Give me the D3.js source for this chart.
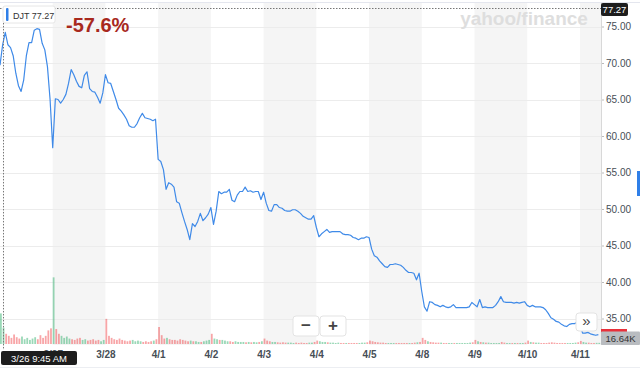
<!DOCTYPE html>
<html lang="en">
<head>
<meta charset="utf-8">
<title>DJT</title>
<script src="https://cdn.jsdelivr.net/npm/d3@7"></script>
<style>
  body { margin: 0; background: #fff; }
  svg { display: block; font-family: "Liberation Sans", Arial, sans-serif; }
</style>
</head>
<body>
<div id="chart"></div>
<script>
// ---------------- DATA ----------------
var days = ["3/26","3/27","3/28","4/1","4/2","4/3","4/4","4/5","4/8","4/9","4/10","4/11"];
var samplesPerDay = 20;   // ~19.5 min per sample
var yTicks = [35, 40, 45, 50, 55, 60, 65, 70, 75];
var lastClose = 77.27;
var changeText = "-57.6%";
var lastVolume = "16.64K";

var price = [
  [69.7,72.5,74.2,72.5,72.1,71.0,68.6,66.9,66.1,67.7,71.0,72.8,72.8,74.5,74.7,74.6,72.7,71.8,69.5,65.0],
  [58.4,65.1,65.0,64.5,65.0,65.7,67.2,69.1,68.4,67.5,66.8,66.6,68.3,68.8,66.5,66.1,66.0,65.3,64.5,65.9],
  [68.4,67.3,67.2,66.1,65.0,63.8,63.4,62.9,62.3,61.4,61.2,61.2,61.7,62.5,63.1,62.5,62.4,62.3,62.1,62.3],
  [56.8,56.5,55.4,52.7,53.6,53.4,53.0,51.0,50.8,49.5,48.3,47.2,45.8,48.0,47.6,48.3,49.4,48.4,48.8,49.3],
  [50.2,47.9,49.7,52.4,52.1,52.3,52.3,52.7,51.2,51.0,51.9,52.4,52.4,53.0,52.4,52.5,52.3,52.4,52.4,51.3],
  [52.3,50.8,49.8,49.7,50.6,50.6,50.2,50.1,49.8,49.7,49.7,49.9,49.9,49.7,49.4,49.0,48.8,48.6,48.6,49.1],
  [47.5,46.2,46.6,46.9,47.2,46.8,46.9,46.9,46.9,46.9,46.6,46.5,46.5,46.4,46.1,46.0,45.8,46.0,46.0,46.2],
  [46.1,44.5,43.6,43.4,42.9,42.5,42.1,42.0,42.4,42.4,42.5,42.4,42.3,42.0,41.6,41.3,41.3,41.2,40.3,41.2],
  [38.7,36.6,36.0,37.3,37.2,36.9,36.8,36.6,36.8,36.6,36.5,36.6,36.9,36.5,36.5,36.5,36.5,36.5,36.6,37.2],
  [36.9,36.6,37.6,36.5,36.6,36.5,36.5,36.5,36.8,37.3,38.0,37.3,37.2,37.2,37.2,37.1,37.2,37.1,37.2,37.3],
  [36.8,36.6,36.8,36.6,36.6,36.6,36.5,36.2,35.7,35.1,34.9,34.6,34.5,34.2,34.0,33.9,34.2,34.3,34.3,34.5],
  [34.3,33.0,33.0,33.1,32.9,32.8,32.7,32.8]
];

// volume in thousands of shares, same sampling as price
var volume = [
  [450,240,150,120,90,140,100,80,110,70,90,60,80,100,70,130,90,120,200,230],
  [980,220,150,120,90,110,80,70,60,80,90,60,70,50,60,70,50,60,40,60],
  [370,120,90,70,60,80,60,50,40,50,60,40,50,40,30,40,30,40,50,70],
  [250,130,80,90,70,60,60,50,70,60,50,40,50,40,40,30,30,40,50,60],
  [150,80,70,60,60,50,40,40,30,40,30,30,30,25,30,25,30,25,30,40],
  [80,50,40,30,30,25,20,25,20,20,20,15,20,15,20,15,15,20,20,30],
  [50,40,30,30,25,20,20,15,20,15,15,15,15,15,15,15,15,20,20,25],
  [50,40,30,25,20,20,15,15,15,15,15,15,15,15,15,15,15,20,25,30],
  [90,60,40,30,25,20,20,20,15,15,15,15,15,15,15,15,15,15,20,25],
  [60,40,30,25,20,20,15,15,15,15,30,20,15,15,15,15,15,15,15,20],
  [50,30,25,20,20,15,15,15,20,25,20,15,15,15,15,15,15,15,20,25],
  [45,30,20,20,15,15,17,17]
];

// ---------------- LAYOUT ----------------
var width = 640, height = 369;
var plotLeft = 0, plotRight = 601, plotTop = 3, plotBottom = 345;

var points = [];
price.forEach(function(day, d) {
  day.forEach(function(p, i) {
    points.push({ t: d + i / samplesPerDay, p: p, v: volume[d][i] });
  });
});
// bar colour: did price rise over the sample interval
points.forEach(function(pt, i) {
  var next = points[i + 1];
  pt.up = next ? next.p >= pt.p : pt.p >= points[i - 1].p;
});

var x = d3.scaleLinear().domain([0, 11.4]).range([plotLeft, plotRight]);
var y = d3.scaleLinear().domain([35, 75]).range([318.5, 26.5]);
var yVol = d3.scaleLinear().domain([0, 1000]).range([344, 276]);

var svg = d3.select("#chart").append("svg")
  .attr("width", width)
  .attr("height", height);

// alternating day bands
svg.append("g").selectAll("rect")
  .data(days.filter(function(d, i) { return i % 2 === 1; }))
  .join("rect")
  .attr("x", function(d) { return x(days.indexOf(d)); })
  .attr("y", plotTop)
  .attr("width", function(d) { return Math.min(x(days.indexOf(d) + 1), plotRight) - x(days.indexOf(d)); })
  .attr("height", plotBottom - plotTop)
  .attr("fill", "#f5f5f5");

// top border
svg.append("line")
  .attr("x1", 0).attr("x2", width)
  .attr("y1", 2.5).attr("y2", 2.5)
  .attr("stroke", "#e4e6ee");

// horizontal grid
svg.append("g").selectAll("line")
  .data(yTicks)
  .join("line")
  .attr("x1", plotLeft).attr("x2", plotRight)
  .attr("y1", function(d) { return Math.round(y(d)) + 0.5; })
  .attr("y2", function(d) { return Math.round(y(d)) + 0.5; })
  .attr("stroke", "#ececec");

// volume bars
svg.append("g").selectAll("rect")
  .data(points)
  .join("rect")
  .attr("x", function(d) { return x(d.t); })
  .attr("y", function(d) { return yVol(d.v); })
  .attr("width", 1.8)
  .attr("height", function(d) { return yVol(0) - yVol(d.v); })
  .attr("fill", function(d) { return d.up ? "#1fa85f" : "#f0383c"; })
  .attr("fill-opacity", 0.45);

// price line
var line = d3.line()
  .x(function(d) { return x(d.t); })
  .y(function(d) { return y(d.p); });

svg.append("path")
  .datum(points)
  .attr("d", line)
  .attr("fill", "none")
  .attr("stroke", "#3f8ae8")
  .attr("stroke-width", 1.2)
  .attr("stroke-linejoin", "round");

// crosshair
svg.append("line")
  .attr("x1", 0).attr("x2", plotRight)
  .attr("y1", Math.round(y(lastClose)) - 1.5).attr("y2", Math.round(y(lastClose)) - 1.5)
  .attr("stroke", "#777").attr("stroke-dasharray", "1.5,1.5");
svg.append("line")
  .attr("x1", 3.5).attr("x2", 3.5)
  .attr("y1", y(lastClose) - 2).attr("y2", plotBottom + 5)
  .attr("stroke", "#777").attr("stroke-dasharray", "1.5,1.5");

// right axis
var yAxis = d3.axisRight(y).tickValues(yTicks).tickSize(3).tickPadding(2)
  .tickFormat(d3.format(".2f"));
var gy = svg.append("g")
  .attr("transform", "translate(" + plotRight + ",0)")
  .call(yAxis);
gy.select(".domain").remove();
gy.selectAll(".tick line").attr("stroke", "#bbb");
gy.selectAll(".tick text")
  .attr("font-size", "10px")
  .attr("font-family", "Liberation Sans, Arial, sans-serif")
  .attr("fill", "#464e56");
svg.append("line")
  .attr("x1", plotRight + 0.5).attr("x2", plotRight + 0.5)
  .attr("y1", plotTop).attr("y2", plotBottom)
  .attr("stroke", "#d8d8d8");

// bottom axis
var xAxis = d3.axisBottom(x)
  .tickValues(d3.range(1, days.length))
  .tickSize(0).tickPadding(6)
  .tickFormat(function(d) { return days[d]; });
var gx = svg.append("g")
  .attr("transform", "translate(0," + plotBottom + ")")
  .call(xAxis);
gx.select(".domain").remove();
gx.selectAll(".tick text")
  .attr("font-size", "10px")
  .attr("font-weight", "bold")
  .attr("font-family", "Liberation Sans, Arial, sans-serif")
  .attr("fill", "#464e56");

svg.append("line")
  .attr("x1", 0).attr("x2", width)
  .attr("y1", 367.5).attr("y2", 367.5)
  .attr("stroke", "#eceef2");

// watermark
svg.append("text")
  .attr("x", 524).attr("y", 25)
  .attr("text-anchor", "middle")
  .attr("font-size", "19px")
  .attr("font-weight", "bold")
  .attr("fill", "#dedede")
  .text("yahoo/finance");

// change %
svg.append("text")
  .attr("x", 66).attr("y", 32)
  .attr("font-size", "20px")
  .attr("font-weight", "bold")
  .attr("fill", "#a8291d")
  .text(changeText);

// ticker label
svg.append("rect")
  .attr("x", 3).attr("y", 6).attr("width", 52).attr("height", 17).attr("rx", 2)
  .attr("fill", "#fff")
  .attr("stroke", "#e6e6e6");
svg.append("rect")
  .attr("x", 6).attr("y", 8).attr("width", 2.5).attr("height", 13).attr("rx", 1)
  .attr("fill", "#2f7fe8");
svg.append("text")
  .attr("x", 13).attr("y", 18.5)
  .attr("font-size", "9px")
  .attr("fill", "#333")
  .text("DJT  " + lastClose.toFixed(2));

// last close label
svg.append("rect")
  .attr("x", 601).attr("y", 3).attr("width", 27).attr("height", 13).attr("rx", 2)
  .attr("fill", "#1d1d1d");
svg.append("text")
  .attr("x", 614.5).attr("y", 13)
  .attr("text-anchor", "middle")
  .attr("font-size", "9.5px")
  .attr("fill", "#fff")
  .text(lastClose.toFixed(2));

// current price / volume label
svg.append("rect")
  .attr("x", 601).attr("y", 329).attr("width", 26).attr("height", 14)
  .attr("fill", "#e8303a");
svg.append("rect")
  .attr("x", 601).attr("y", 331.5).attr("width", 39).attr("height", 13.5).attr("rx", 1)
  .attr("fill", "#b9bcc0");
svg.append("text")
  .attr("x", 620.5).attr("y", 342)
  .attr("text-anchor", "middle")
  .attr("font-size", "9.5px")
  .attr("fill", "#333")
  .text(lastVolume);

// scroll marker
svg.append("rect")
  .attr("x", 637).attr("y", 171).attr("width", 3).attr("height", 25)
  .attr("fill", "#2f7fe8");

// zoom buttons
var btns = [{ x: 293, label: "\u2212" }, { x: 320, label: "+" }];
var gb = svg.append("g").selectAll("g").data(btns).join("g");
gb.append("rect")
  .attr("x", function(d) { return d.x; }).attr("y", 316)
  .attr("width", 26).attr("height", 20).attr("rx", 3)
  .attr("fill", "#fff").attr("stroke", "#e3e3e3");
gb.append("text")
  .attr("x", function(d) { return d.x + 13; }).attr("y", 331)
  .attr("text-anchor", "middle")
  .attr("font-size", "17px").attr("font-weight", "bold")
  .attr("fill", "#444")
  .text(function(d) { return d.label; });

svg.append("rect")
  .attr("x", 576).attr("y", 313).attr("width", 21).attr("height", 18).attr("rx", 3)
  .attr("fill", "#fff").attr("stroke", "#e3e3e3");
svg.append("text")
  .attr("x", 586.5).attr("y", 326)
  .attr("text-anchor", "middle")
  .attr("font-size", "15px")
  .attr("fill", "#444")
  .text("\u00bb");

// tooltip date
svg.append("rect")
  .attr("x", 1).attr("y", 351).attr("width", 76).attr("height", 14).attr("rx", 2)
  .attr("fill", "#1d1d1d");
svg.append("text")
  .attr("x", 39).attr("y", 361.5)
  .attr("text-anchor", "middle")
  .attr("font-size", "9.5px")
  .attr("fill", "#fff")
  .text("3/26 9:45 AM");
</script>
</body>
</html>
